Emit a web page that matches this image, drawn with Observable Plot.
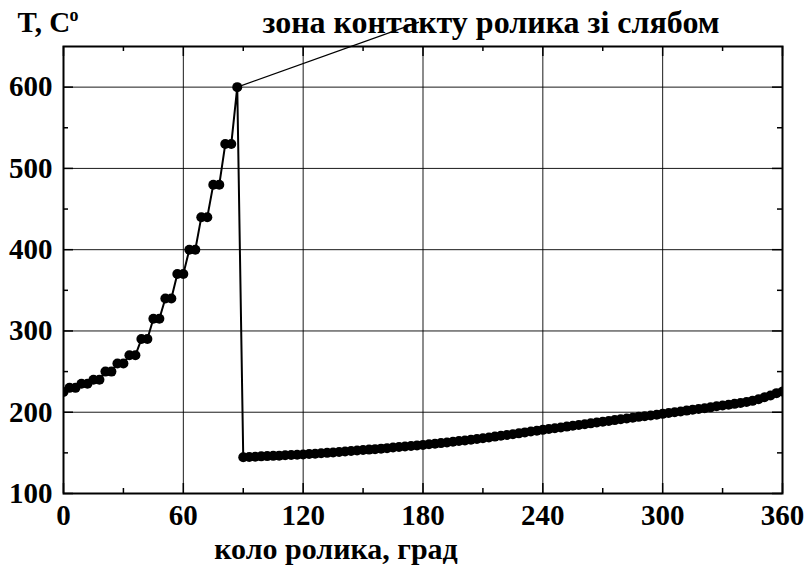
<!DOCTYPE html>
<html>
<head>
<meta charset="utf-8">
<script src="https://cdn.jsdelivr.net/npm/d3@7"></script>
<script src="https://cdn.jsdelivr.net/npm/@observablehq/plot@0.6"></script>
<style>
  html, body { margin: 0; padding: 0; background: #fff; }
  #chart { width: 804px; height: 572px; }
</style>
</head>
<body>
<div id="chart"></div>
<script>
// Roller surface temperature along the roller circumference (degrees)
// Heating in the slab contact zone (0–87°), then cooling (90–360°)
const anglesHeat = [0, 3, 6, 9, 12, 15, 18, 21, 24, 27, 30, 33, 36, 39, 42,
  45, 48, 51, 54, 57, 60, 63, 66, 69, 72, 75, 78, 81, 84, 87];
const tempsHeat = [225, 230, 230, 235, 235, 240, 240, 250, 250, 260, 260, 270, 270, 290, 290,
  315, 315, 340, 340, 370, 370, 400, 400, 440, 440, 480, 480, 530, 530, 600];

const anglesCool = [90, 93, 96, 99, 102, 105, 108, 111, 114, 117, 120, 123, 126, 129, 132,
  135, 138, 141, 144, 147, 150, 153, 156, 159, 162, 165, 168, 171, 174, 177,
  180, 183, 186, 189, 192, 195, 198, 201, 204, 207, 210, 213, 216, 219, 222,
  225, 228, 231, 234, 237, 240, 243, 246, 249, 252, 255, 258, 261, 264, 267,
  270, 273, 276, 279, 282, 285, 288, 291, 294, 297, 300, 303, 306, 309, 312,
  315, 318, 321, 324, 327, 330, 333, 336, 339, 342, 345, 348, 351, 354, 357, 360];
const tempsCool = [144.5, 145, 145.3, 145.7, 146, 146.3, 146.6, 147, 147.3, 147.7, 148, 148.5, 149, 149.5, 150,
  150.5, 151, 151.7, 152.3, 153, 153.5, 154, 154.6, 155.2, 155.8, 156.5, 157.2, 157.9, 158.5, 159.2,
  159.8, 160.5, 161.3, 162, 162.8, 163.6, 164.5, 165.3, 166.2, 167, 168, 169, 170, 171, 172,
  173, 174, 175.2, 176.2, 177.3, 178.3, 179.3, 180.3, 181.3, 182.3, 183.3, 184.3, 185.3, 186.3, 187.3,
  188.3, 189.3, 190.3, 191.3, 192.3, 193.3, 194.3, 195, 196, 197, 198, 199, 200, 201, 202,
  203, 204, 205, 206, 207.3, 208.3, 209.3, 210.3, 211.3, 212.5, 214, 216, 218.5, 220.5, 223.5, 225.5];

const xTicks = [0, 60, 120, 180, 240, 300, 360];
const xMinorTicks = [30, 90, 150, 210, 270, 330];
const yTicks = [100, 200, 300, 400, 500, 600];
const yMinorTicks = [150, 250, 350, 450, 550];

const xLabel = "коло ролика, град";
const yLabel = "T, C";
const yLabelSup = "o";
const noteText = "зона контакту ролика зі слябом";

// combined series
const series = anglesHeat.map((a, i) => ({angle: a, temp: tempsHeat[i]}))
  .concat(anglesCool.map((a, i) => ({angle: a, temp: tempsCool[i]})));

// peak of the contact zone, where the leader line of the note starts
const peak = series.reduce((m, d) => (d.temp > m.temp ? d : m));
const leader = [{x1: peak.angle, y1: peak.temp, x2: 178, y2: 680}];

const W = 804, H = 572;
const mL = 63, mR = 22, mT = 46, mB = 79;
const frameW = W - mL - mR, frameH = H - mT - mB;
const majorLen = 10, minorLen = 5;

const serif = "'Liberation Serif', 'Times New Roman', serif";
const font = {fontFamily: serif, fontWeight: "bold", fill: "black", lineAnchor: "middle"};

const chart = Plot.plot({
  width: W,
  height: H,
  marginLeft: mL,
  marginRight: mR,
  marginTop: mT,
  marginBottom: mB,
  x: {domain: [0, 360], axis: null},
  y: {domain: [100, 650], axis: null},
  style: {
    fontFamily: serif,
    fontWeight: "bold",
    fontSize: "28px",
    color: "black",
    background: "white"
  },
  marks: [
    // grid
    Plot.gridX(xTicks.slice(1, -1), {stroke: "black", strokeOpacity: 0.9, strokeWidth: 1}),
    Plot.gridY(yTicks.slice(1), {stroke: "black", strokeOpacity: 0.9, strokeWidth: 1}),
    // inward ticks: bottom & top
    Plot.tickX(xTicks, {x: d => d, insetTop: frameH - majorLen, stroke: "black", strokeWidth: 1.5}),
    Plot.tickX(xMinorTicks, {x: d => d, insetTop: frameH - minorLen, stroke: "black", strokeWidth: 1.5}),
    Plot.tickX(xTicks, {x: d => d, insetBottom: frameH - majorLen, stroke: "black", strokeWidth: 1.5}),
    Plot.tickX(xMinorTicks, {x: d => d, insetBottom: frameH - minorLen, stroke: "black", strokeWidth: 1.5}),
    // inward ticks: left & right
    Plot.tickY(yTicks, {y: d => d, insetRight: frameW - majorLen, stroke: "black", strokeWidth: 1.5}),
    Plot.tickY(yMinorTicks, {y: d => d, insetRight: frameW - minorLen, stroke: "black", strokeWidth: 1.5}),
    Plot.tickY(yTicks, {y: d => d, insetLeft: frameW - majorLen, stroke: "black", strokeWidth: 1.5}),
    Plot.tickY(yMinorTicks, {y: d => d, insetLeft: frameW - minorLen, stroke: "black", strokeWidth: 1.5}),
    // tick labels
    Plot.text(xTicks, {x: d => d, text: d => String(d), frameAnchor: "bottom", dy: 22, fontSize: 29, ...font}),
    Plot.text(yTicks, {y: d => d, text: d => String(d), frameAnchor: "left", textAnchor: "end", dx: -11, fontSize: 29, ...font}),
    Plot.frame({stroke: "black", strokeWidth: 2}),
    // data
    Plot.line(series, {x: "angle", y: "temp", stroke: "black", strokeWidth: 2, clip: true}),
    Plot.dot(series, {x: "angle", y: "temp", r: 5, fill: "black", stroke: "none", clip: true}),
    // note with leader line
    Plot.link(leader, {x1: "x1", y1: "y1", x2: "x2", y2: "y2", stroke: "black", strokeWidth: 1.2, clip: false}),
    Plot.text([noteText], {text: d => d, frameAnchor: "top", dx: 68, dy: -24, fontSize: 32, ...font}),
    // axis titles
    Plot.text([yLabel], {text: d => d, frameAnchor: "top-left", textAnchor: "start", dx: -46, dy: -24, fontSize: 29, ...font}),
    Plot.text([yLabelSup], {text: d => d, frameAnchor: "top-left", textAnchor: "start", dx: 6, dy: -31, fontSize: 18, ...font}),
    Plot.text([xLabel], {text: d => d, frameAnchor: "bottom", dx: -87, dy: 56, fontSize: 30, ...font})
  ]
});

document.getElementById("chart").appendChild(chart);
</script>
</body>
</html>
